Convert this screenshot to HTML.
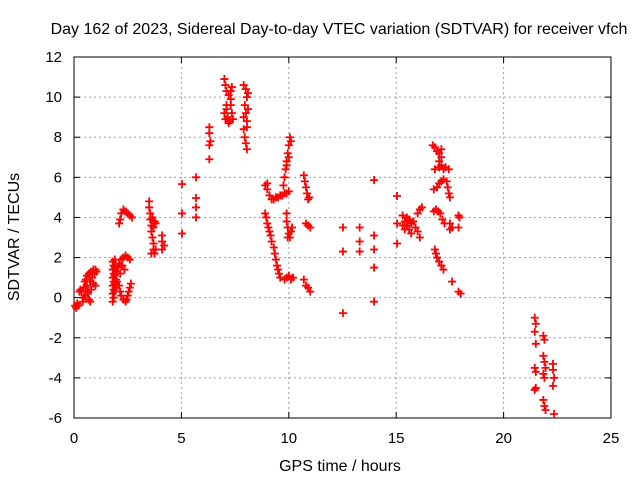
<!DOCTYPE html>
<html><head><meta charset="utf-8"><style>
html,body{margin:0;padding:0;background:#fff;}
svg{display:block;font-family:"Liberation Sans",sans-serif;}
</style></head><body>
<svg id="chart" width="640" height="480" viewBox="0 0 640 480" xmlns="http://www.w3.org/2000/svg">
<rect width="640" height="480" fill="#fff"/>
<text x="339" y="34" font-size="16" text-anchor="middle" fill="#000">Day 162 of 2023, Sidereal Day-to-day VTEC variation (SDTVAR) for receiver vfch</text>
<text x="340" y="471" font-size="16" text-anchor="middle" fill="#000">GPS time / hours</text>
<text transform="translate(19,237) rotate(-90)" font-size="16" text-anchor="middle" fill="#000">SDTVAR / TECUs</text>
<g id="grid"></g>
<g id="axes"></g>
<g id="points"></g>
</svg>
<script>
const xTicks=[0,5,10,15,20,25];
const yTicks=[-6,-4,-2,0,2,4,6,8,10,12];
const observations=[
[0.05,-0.4],[0.1,-0.5],[0.15,-0.3],[0.2,-0.4],[0.25,0.3],[0.3,0.4],[0.35,0.3],[0.4,-0.2],[0.45,0.5],[0.5,0.8],[0.5,0.1],[0.55,0.9],[0.6,0.6],[0.6,1.1],[0.65,0.3],[0.7,1.2],[0.7,-0.1],[0.75,0.8],[0.8,1.3],[0.8,0.4],[0.85,1.0],[0.9,1.4],[0.9,0.7],[0.95,1.2],[1.0,1.4],[1.0,0.6],[1.05,1.3],[0.45,0.0],[0.55,0.5],[0.65,0.2],[0.75,-0.2],
[1.8,-0.2],[1.8,0.2],[1.8,0.6],[1.8,1.0],[1.8,1.4],[1.8,1.8],[1.85,0.0],[1.85,0.4],[1.85,0.8],[1.85,1.2],[1.85,1.6],[1.9,0.3],[1.9,0.7],[1.9,1.1],[1.9,1.5],[1.9,1.9],[1.95,0.5],[1.95,0.9],[2.0,1.3],[2.0,0.8],
[2.05,1.5],[2.1,1.7],[2.2,1.9],[2.3,2.0],[2.4,2.1],[2.5,2.0],[2.6,1.9],[2.15,1.2],[2.25,1.6],[2.35,1.4],
[2.1,0.6],[2.15,0.3],[2.2,0.1],[2.3,-0.1],[2.4,-0.2],[2.45,-0.1],[2.5,0.1],[2.55,0.3],[2.6,0.5],[2.65,0.7],
[2.1,3.7],[2.15,3.9],[2.2,4.2],[2.3,4.4],[2.4,4.3],[2.5,4.2],[2.6,4.1],[2.7,4.0],
[3.5,4.8],[3.5,4.5],[3.55,4.2],[3.55,3.9],[3.6,3.6],[3.6,3.3],[3.65,3.0],[3.7,2.7],[3.7,2.4],[3.75,2.2],[3.6,2.2],[3.8,2.4],[3.65,4.0],[3.75,3.8],[3.8,3.7],[3.7,3.5],
[4.1,3.1],[4.1,2.8],[4.2,2.6],[4.1,2.4],
[5.03,5.66],[5.03,4.2],[5.03,3.2],[5.68,6.0],[5.68,4.97],[5.68,4.5],[5.68,4.0],
[6.3,8.5],[6.3,8.2],[6.35,7.8],[6.3,7.6],[6.3,6.9],
[7.0,10.9],[7.05,10.6],[7.1,10.3],[7.2,10.1],[7.3,9.9],[7.35,10.5],[7.3,10.3],[7.1,9.6],[7.0,9.2],[7.05,8.9],[7.15,9.0],[7.25,8.8],[7.35,9.2],[7.4,8.9],[7.1,9.4],[7.3,9.6],[7.2,8.7],
[7.9,10.6],[8.0,10.4],[8.05,10.0],[7.95,9.6],[8.0,9.2],[8.05,8.8],[7.9,8.4],[7.95,8.0],[8.0,7.7],[8.05,7.4],[8.1,10.2],[8.1,9.4],[7.9,9.0],[8.05,8.5],
[8.9,5.6],[9.0,5.4],[9.1,5.1],[9.2,4.9],[9.3,4.9],[9.4,5.0],[9.5,5.0],[9.6,5.1],[9.7,5.1],[9.8,5.2],[9.9,5.2],[10.0,5.3],[9.0,5.7],
[9.75,5.6],[9.8,6.0],[9.85,6.4],[9.9,6.8],[9.95,7.2],[10.0,7.6],[10.05,8.0],[10.1,7.8],[9.9,6.6],[10.0,7.0],
[8.9,4.2],[8.95,4.0],[9.0,3.7],[9.05,3.5],[9.1,3.3],[9.15,3.1],[9.2,2.8],[9.3,2.5],[9.35,2.2],[9.4,1.9],[9.45,1.6],[9.5,1.4],[9.55,1.2],[9.6,1.0],
[9.9,4.2],[9.9,3.8],[9.95,3.5],[10.0,3.2],[10.05,3.0],[10.1,3.3],[10.15,3.5],[9.95,3.0],
[9.8,0.9],[9.9,1.0],[10.0,1.1],[10.1,0.9],[10.2,1.0],
[10.7,6.1],[10.75,5.8],[10.8,5.5],[10.85,5.2],[10.9,4.9],[10.95,5.0],[10.8,3.7],[10.9,3.6],[11.0,3.5],[10.7,0.9],[10.8,0.6],[10.9,0.5],[11.0,0.3],
[12.52,3.5],[12.52,2.3],[12.52,-0.77],[13.3,3.5],[13.3,2.8],[13.3,2.3],[13.97,5.86],[13.97,3.1],[13.97,2.4],[13.97,1.5],[13.97,-0.2],
[15.04,5.07],[15.04,3.7],[15.04,2.7],[15.3,4.1],[15.4,3.8],[15.5,3.6],[15.6,3.4],[15.7,3.2],[15.5,4.0],[15.6,3.9],[15.3,3.6],[15.4,3.4],[15.8,3.8],[15.9,3.5],[16.0,3.3],[16.1,3.0],[16.0,4.2],[16.1,4.4],[16.2,4.5],[15.7,3.7],
[16.7,7.6],[16.8,7.5],[16.9,7.3],[17.0,7.2],[17.1,7.0],[17.0,6.8],[17.1,6.6],[17.2,6.4],[16.8,6.4],[17.0,6.5],[17.3,6.5],[17.45,6.4],[17.1,7.4],
[16.75,5.4],[16.9,5.5],[17.0,5.7],[17.1,5.8],[17.2,5.9],[17.35,5.8],[17.4,5.5],[17.45,5.2],[17.5,5.0],
[16.75,4.3],[16.85,4.4],[16.95,4.3],[17.05,4.2],[17.15,3.9],[17.25,3.7],[17.9,4.1],[17.95,4.0],[17.5,3.4],[17.6,3.5],[17.9,3.5],[17.5,3.7],
[16.8,2.4],[16.85,2.2],[16.9,2.0],[17.0,1.8],[17.1,1.6],[17.2,1.4],[17.6,0.8],[17.9,0.3],[18.0,0.2],
[21.45,-1.0],[21.5,-1.3],[21.45,-1.7],[21.5,-2.3],[21.85,-1.9],[21.9,-2.1],[21.85,-2.9],[21.9,-3.2],[21.95,-3.5],[21.85,-3.8],[21.9,-4.0],[21.45,-3.5],[21.5,-3.7],[21.45,-4.6],[21.5,-4.5],[22.3,-3.3],[22.3,-3.6],[22.35,-4.0],[22.3,-4.4],[21.85,-5.1],[21.9,-5.4],[21.95,-5.6],[22.35,-5.8]
];
const L=74,R=611,T=57,B=418,XMIN=0,XMAX=25,YMIN=-6,YMAX=12;
function sx(v){return L+(v-XMIN)/(XMAX-XMIN)*(R-L);}
function sy(v){return B-(v-YMIN)/(YMAX-YMIN)*(B-T);}
const NS="http://www.w3.org/2000/svg";
function mk(tag,attrs,parent){const e=document.createElementNS(NS,tag);for(const k in attrs)e.setAttribute(k,attrs[k]);parent.appendChild(e);return e;}
const grid=document.getElementById('grid'),axes=document.getElementById('axes'),pts=document.getElementById('points');
xTicks.forEach(t=>{
  const x=sx(t);
  if(t>XMIN&&t<XMAX){const g=mk('line',{x1:x,y1:T,x2:x,y2:B,stroke:'#a0a0a0','stroke-dasharray':'2,3'},grid);
  
  }
  const a=mk('line',{x1:x,y1:B,x2:x,y2:B-6,stroke:'#000'},axes);
  
  
  const b=mk('line',{x1:x,y1:T,x2:x,y2:T+6,stroke:'#000'},axes);
  
  
  const lb=mk('text',{x:x,y:443,'font-size':'15','text-anchor':'middle',fill:'#000'},axes);
  lb.textContent=t;
  
  
});
yTicks.forEach(t=>{
  const y=sy(t);
  if(t>YMIN&&t<YMAX){const g=mk('line',{x1:L,y1:y,x2:R,y2:y,stroke:'#a0a0a0','stroke-dasharray':'2,3'},grid);
  
  }
  const a=mk('line',{x1:L,y1:y,x2:L+6,y2:y,stroke:'#000'},axes);
  
  
  const b=mk('line',{x1:R,y1:y,x2:R-6,y2:y,stroke:'#000'},axes);
  
  
  const lb=mk('text',{x:62,y:y+5,'font-size':'15','text-anchor':'end',fill:'#000'},axes);
  lb.textContent=t;
  
  
});
const frame=mk('rect',{x:L,y:T,width:R-L,height:B-T,fill:'none',stroke:'#000'},axes);


observations.forEach(p=>{
  const x=sx(p[0]),y=sy(p[1]);
  const m=mk('path',{d:`M${x-4},${y}H${x+4}M${x},${y-4}V${y+4}`,stroke:'#ff0000','stroke-width':'1.8',fill:'none'},pts);
  
  
});
</script>
</body></html>
